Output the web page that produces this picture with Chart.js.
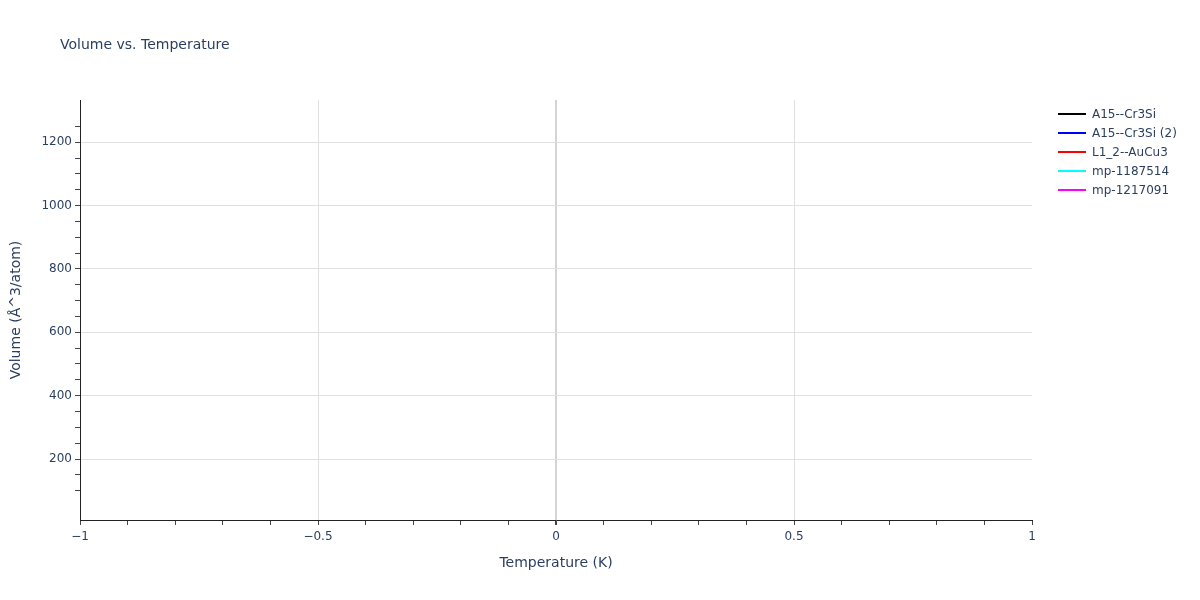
<!DOCTYPE html>
<html lang="en">
<head>
  <meta charset="UTF-8">
  <title>Volume vs. Temperature</title>
  <script src="https://cdn.jsdelivr.net/npm/chart.js"></script>
  <style>
    body {
      margin: 0;
      background: white;
      font-family: "DejaVu Sans", Verdana, sans-serif;
    }
    #wrap {
      position: relative;
      width: 1200px;
      height: 600px;
    }
    #legend {
      position: absolute;
      left: 1058px;
      top: 104px;
      margin: 0;
      padding: 0;
      list-style: none;
      font-size: 12px;
      color: #2a3f5f;
    }
    #legend li {
      height: 19px;
      display: flex;
      align-items: center;
      white-space: nowrap;
    }
    #legend span {
      display: inline-block;
      width: 28px;
      height: 2px;
      margin-right: 6px;
    }
  </style>
</head>
<body>
  <div id="wrap">
    <canvas id="volChart"></canvas>
    <ul id="legend"></ul>
  </div>

  <script>
    // series shown in the legend; no points are visible in the plot
    const seriesNames = ['A15--Cr3Si', 'A15--Cr3Si (2)', 'L1_2--AuCu3', 'mp-1187514', 'mp-1217091'];
    const seriesColors = ['#000000', '#0000ff', '#ff0000', '#00ffff', '#ff00ff'];
    const temperatures = [];
    const volumes = [[], [], [], [], []];

    // axis ranges
    const xRange = [-1, 1];
    const yRange = [7.4, 1333.6];

    const textColor = '#2a3f5f';
    const fontFamily = '"DejaVu Sans", Verdana, sans-serif';

    function isMultiple(v, step) {
      const r = v / step;
      return Math.abs(r - Math.round(r)) < 1e-6;
    }

    const titlePlugin = {
      id: 'plotTitle',
      afterDraw(chart) {
        const ctx = chart.ctx;
        ctx.save();
        ctx.fillStyle = textColor;
        ctx.font = '14px ' + fontFamily;
        ctx.textBaseline = 'middle';
        ctx.fillText('Volume vs. Temperature', 60, 45);
        ctx.restore();
      }
    };

    const datasets = seriesNames.map((name, i) => ({
      label: name,
      data: temperatures.map((t, j) => ({ x: t, y: volumes[i][j] })),
      borderColor: seriesColors[i],
      backgroundColor: seriesColors[i],
      borderWidth: 2,
      pointRadius: 0
    }));

    const chart = new Chart(document.getElementById('volChart'), {
      type: 'line',
      data: { datasets: datasets },
      plugins: [titlePlugin],
      options: {
        responsive: true,
        maintainAspectRatio: false,
        animation: false,
        layout: {
          padding: { top: 100, right: 168, bottom: 0, left: 0 }
        },
        scales: {
          x: {
            type: 'linear',
            min: xRange[0],
            max: xRange[1],
            border: { color: '#222', width: 1 },
            grid: {
              color: ctx => {
                const v = ctx.tick ? ctx.tick.value : 0;
                if (Math.abs(v) < 1e-6) return '#d4d4d4';
                if (isMultiple(v, 0.5) && Math.abs(v) < 0.99) return '#e0e0e0';
                return 'rgba(0,0,0,0)';
              },
              lineWidth: ctx => (ctx.tick && Math.abs(ctx.tick.value) < 1e-6 ? 2 : 1),
              tickColor: '#444',
              tickLength: 5
            },
            ticks: {
              stepSize: 0.1,
              autoSkip: false,
              maxRotation: 0,
              color: textColor,
              font: { family: fontFamily, size: 12 },
              padding: 5,
              callback: v => {
                if (!isMultiple(v, 0.5)) return '';
                const r = Math.round(v * 2) / 2;
                return r < 0 ? '\u2212' + Math.abs(r) : String(r);
              }
            },
            title: {
              display: true,
              text: 'Temperature (K)',
              color: textColor,
              font: { family: fontFamily, size: 14 },
              padding: { top: 4, bottom: 28 }
            },
            afterFit: scale => { scale.height = 80; }
          },
          y: {
            min: yRange[0],
            max: yRange[1],
            border: { color: '#222', width: 1 },
            grid: {
              color: ctx => {
                const v = ctx.tick ? ctx.tick.value : 0;
                return isMultiple(v, 200) ? '#e0e0e0' : 'rgba(0,0,0,0)';
              },
              tickColor: ctx => {
                const v = ctx.tick ? ctx.tick.value : 0;
                return isMultiple(v, 50) ? '#444' : 'rgba(0,0,0,0)';
              },
              tickLength: 5
            },
            ticks: {
              stepSize: 50,
              autoSkip: false,
              color: textColor,
              font: { family: fontFamily, size: 12 },
              padding: 3,
              callback: v => (isMultiple(v, 200) ? String(Math.round(v)) : '')
            },
            title: {
              display: true,
              text: 'Volume (Å^3/atom)',
              color: textColor,
              font: { family: fontFamily, size: 14 },
              padding: { top: 8, bottom: 4 }
            },
            afterFit: scale => { scale.width = 80; }
          }
        },
        plugins: {
          legend: { display: false },
          tooltip: { enabled: false }
        }
      }
    });

    // html legend built from the chart's datasets
    const legendEl = document.getElementById('legend');
    chart.data.datasets.forEach(ds => {
      const li = document.createElement('li');
      const swatch = document.createElement('span');
      swatch.style.background = ds.borderColor;
      li.appendChild(swatch);
      li.appendChild(document.createTextNode(ds.label));
      legendEl.appendChild(li);
    });
  </script>
</body>
</html>
